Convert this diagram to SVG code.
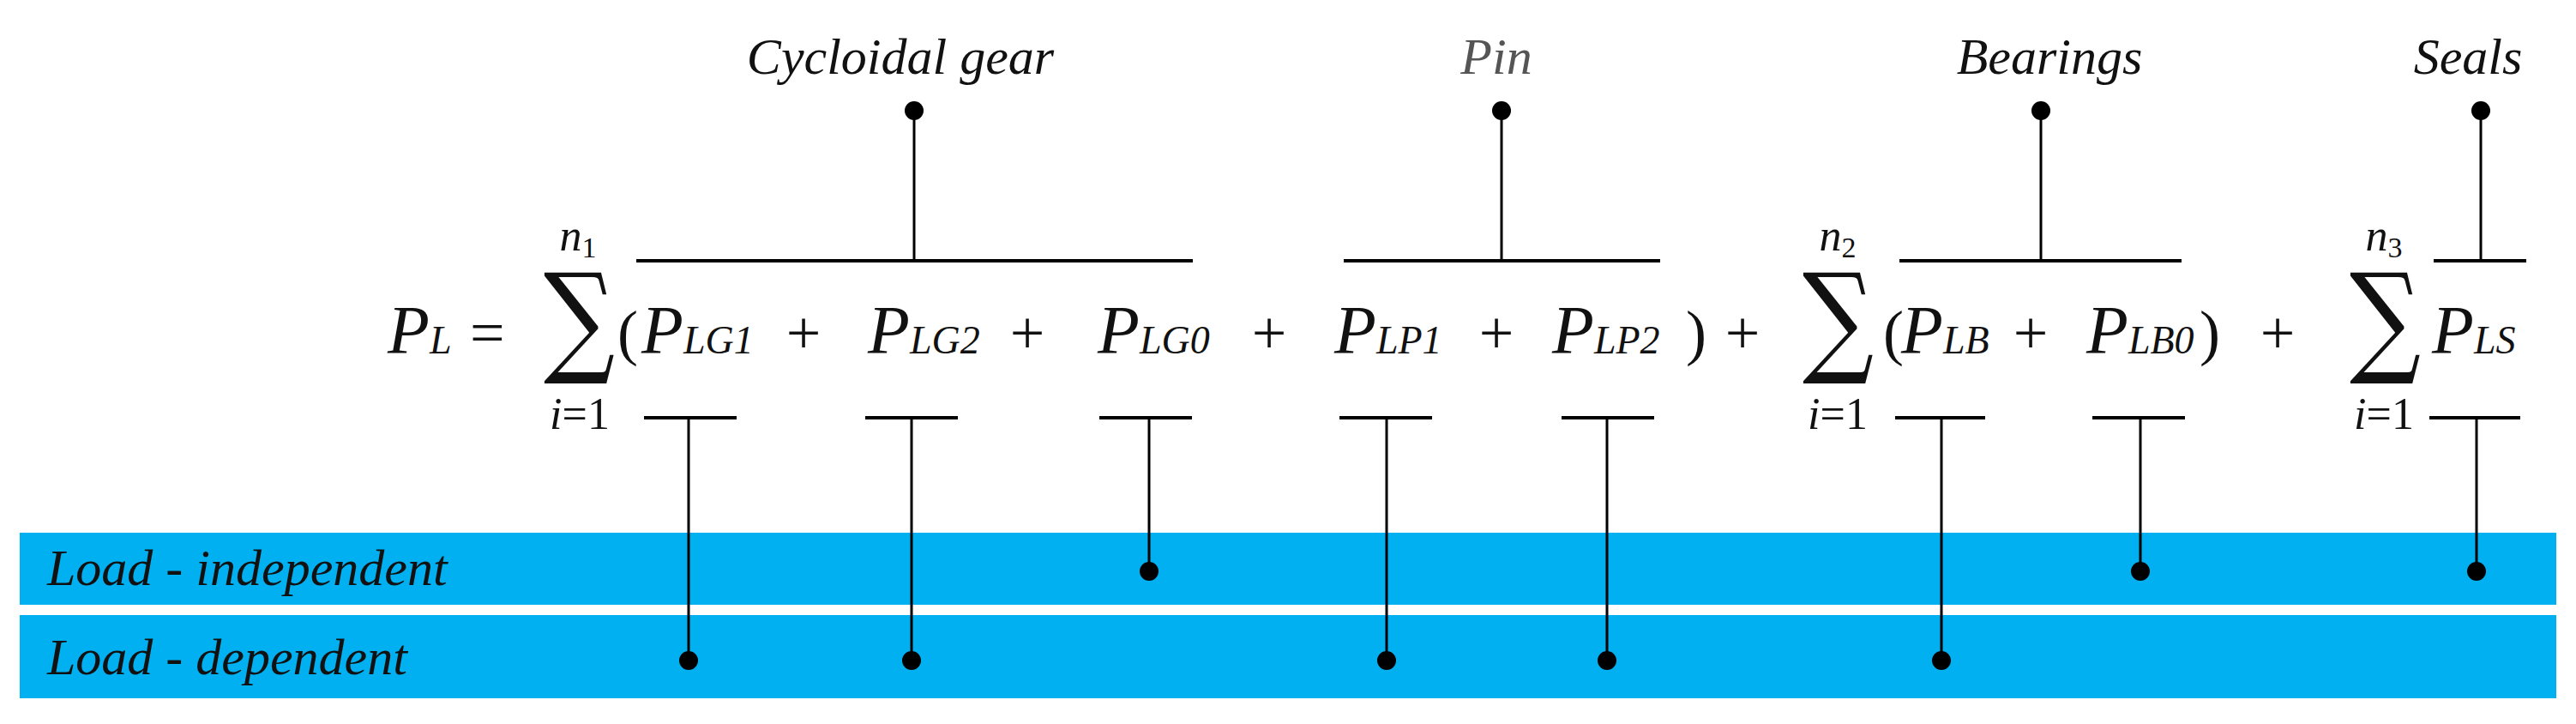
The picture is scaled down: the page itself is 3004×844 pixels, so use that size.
<svg xmlns="http://www.w3.org/2000/svg" width="3004" height="844" viewBox="0 0 3004 844">
<style>
.lab{font-family:"Liberation Serif",serif;font-style:italic;font-size:60px;fill:#111}
.m{font-family:"Liberation Serif",serif;font-style:italic;font-size:80px;fill:#111}
.s{font-size:46px}
.op{font-family:"Liberation Serif",serif;font-size:72px;fill:#111}
.sig{font-family:"DejaVu Serif",serif;font-size:142px;fill:#111}
.lim{font-family:"Liberation Serif",serif;font-size:52px;fill:#111}
.bar{stroke:#000;stroke-width:4}
.v{stroke:#000;stroke-width:3}
.band{fill:#00B0F0}
</style>
<rect width="3004" height="844" fill="#fff"/>
<g id="band-independent"><rect class="band" x="23" y="621" width="2958" height="84"/><text class="lab" x="55" y="682">Load - independent</text></g>
<g id="band-dependent"><rect class="band" x="23" y="717" width="2958" height="97"/><text class="lab" x="55" y="786">Load - dependent</text></g>
<g id="labels">
<text class="lab" x="1050" y="86" text-anchor="middle">Cycloidal gear</text>
<text class="lab" x="1745" y="86" text-anchor="middle" style="fill:#555">Pin</text>
<text class="lab" x="2390" y="86" text-anchor="middle">Bearings</text>
<text class="lab" x="2878" y="86" text-anchor="middle">Seals</text>
</g>
<g id="formula">
<text class="m" x="452" y="412">P<tspan class="s">L</tspan></text>
<text class="op" x="548" y="412">=</text>
<text class="sig" transform="translate(634,420) scale(0.82,1)">∑</text>
<text class="lim" x="674" y="292" text-anchor="middle" font-style="italic">n<tspan font-size="34" font-style="normal" dy="8">1</tspan></text>
<text class="lim" x="676" y="500" text-anchor="middle"><tspan font-style="italic">i</tspan>=1</text>
<text class="op" x="720" y="412">(</text>
<text class="m" x="748" y="412">P<tspan class="s">LG1</tspan></text>
<text class="op" x="937" y="412" text-anchor="middle">+</text>
<text class="m" x="1012" y="412">P<tspan class="s">LG2</tspan></text>
<text class="op" x="1198" y="412" text-anchor="middle">+</text>
<text class="m" x="1280" y="412">P<tspan class="s">LG0</tspan></text>
<text class="op" x="1480" y="412" text-anchor="middle">+</text>
<text class="m" x="1556" y="412">P<tspan class="s">LP1</tspan></text>
<text class="op" x="1745" y="412" text-anchor="middle">+</text>
<text class="m" x="1810" y="412">P<tspan class="s">LP2</tspan></text>
<text class="op" x="1966" y="412">)</text>
<text class="op" x="2032" y="412" text-anchor="middle">+</text>
<text class="sig" transform="translate(2102,420) scale(0.82,1)">∑</text>
<text class="lim" x="2143" y="292" text-anchor="middle" font-style="italic">n<tspan font-size="34" font-style="normal" dy="8">2</tspan></text>
<text class="lim" x="2143" y="500" text-anchor="middle"><tspan font-style="italic">i</tspan>=1</text>
<text class="op" x="2196" y="412">(</text>
<text class="m" x="2217" y="412">P<tspan class="s">LB</tspan></text>
<text class="op" x="2368" y="412" text-anchor="middle">+</text>
<text class="m" x="2433" y="412">P<tspan class="s">LB0</tspan></text>
<text class="op" x="2565" y="412">)</text>
<text class="op" x="2656" y="412" text-anchor="middle">+</text>
<text class="sig" transform="translate(2740,420) scale(0.82,1)">∑</text>
<text class="lim" x="2780" y="292" text-anchor="middle" font-style="italic">n<tspan font-size="34" font-style="normal" dy="8">3</tspan></text>
<text class="lim" x="2780" y="500" text-anchor="middle"><tspan font-style="italic">i</tspan>=1</text>
<text class="m" x="2836" y="412">P<tspan class="s">LS</tspan></text>
</g>
<g id="connectors" fill="#000">
<line class="bar" x1="742" y1="304" x2="1391" y2="304"/><line class="v" x1="1066" y1="129" x2="1066" y2="304"/><circle cx="1066" cy="129" r="11"/>
<line class="bar" x1="1567" y1="304" x2="1936" y2="304"/><line class="v" x1="1751" y1="129" x2="1751" y2="304"/><circle cx="1751" cy="129" r="11"/>
<line class="bar" x1="2215" y1="304" x2="2544" y2="304"/><line class="v" x1="2380" y1="129" x2="2380" y2="304"/><circle cx="2380" cy="129" r="11"/>
<line class="bar" x1="2838" y1="304" x2="2946" y2="304"/><line class="v" x1="2893" y1="129" x2="2893" y2="304"/><circle cx="2893" cy="129" r="11"/>
<line class="bar" x1="751" y1="487" x2="859" y2="487"/><line class="v" x1="803" y1="487" x2="803" y2="770"/><circle cx="803" cy="770" r="11"/>
<line class="bar" x1="1009" y1="487" x2="1117" y2="487"/><line class="v" x1="1063" y1="487" x2="1063" y2="770"/><circle cx="1063" cy="770" r="11"/>
<line class="bar" x1="1282" y1="487" x2="1390" y2="487"/><line class="v" x1="1340" y1="487" x2="1340" y2="666"/><circle cx="1340" cy="666" r="11"/>
<line class="bar" x1="1562" y1="487" x2="1670" y2="487"/><line class="v" x1="1617" y1="487" x2="1617" y2="770"/><circle cx="1617" cy="770" r="11"/>
<line class="bar" x1="1821" y1="487" x2="1929" y2="487"/><line class="v" x1="1874" y1="487" x2="1874" y2="770"/><circle cx="1874" cy="770" r="11"/>
<line class="bar" x1="2210" y1="487" x2="2315" y2="487"/><line class="v" x1="2264" y1="487" x2="2264" y2="770"/><circle cx="2264" cy="770" r="11"/>
<line class="bar" x1="2440" y1="487" x2="2548" y2="487"/><line class="v" x1="2496" y1="487" x2="2496" y2="666"/><circle cx="2496" cy="666" r="11"/>
<line class="bar" x1="2833" y1="487" x2="2939" y2="487"/><line class="v" x1="2888" y1="487" x2="2888" y2="666"/><circle cx="2888" cy="666" r="11"/>
</g>
</svg>
